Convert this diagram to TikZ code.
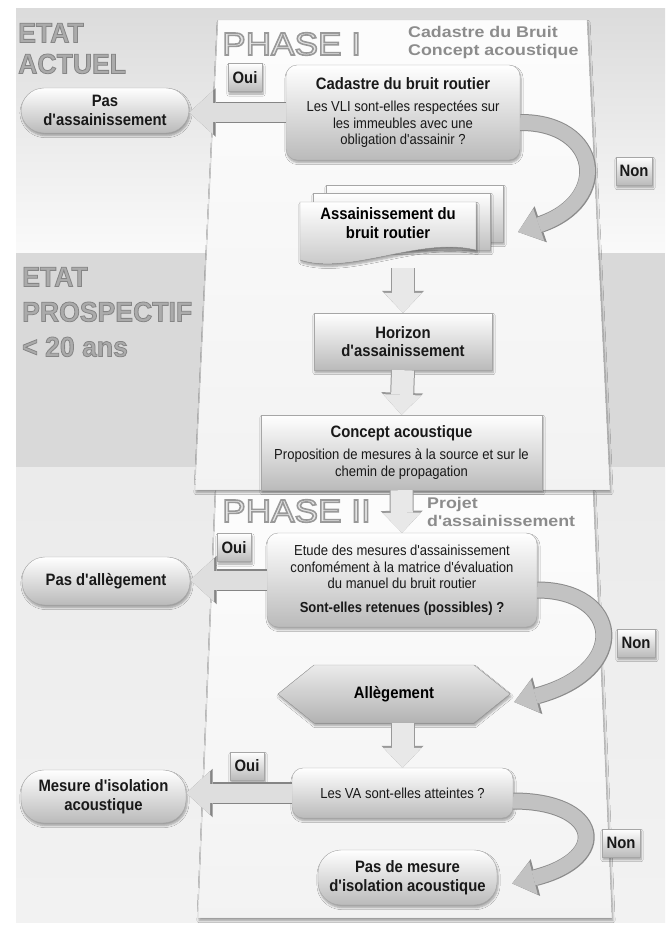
\documentclass[tikz,border=0pt]{standalone}
\usepackage{fontspec}
\setmainfont{Liberation Sans}
\newfontfamily\narrowfont{Liberation Sans}[FakeStretch=0.9]
\newfontfamily\headfont{Liberation Sans}[FakeStretch=0.95]
\newfontfamily\phasefont{Liberation Sans}[FakeStretch=1.1]
\newfontfamily\widefont{Liberation Sans}[FakeStretch=1.15]
\usetikzlibrary{arrows.meta,shadows.blur,calc}
\newcommand{\bodytext}{\narrowfont\fontsize{14.5}{16.5}\selectfont}
\newcommand{\titletext}{\narrowfont\bfseries\fontsize{16.5}{18.5}\selectfont}
% filled text with a stroked outline: #1 outline grey level, #2 line width, #3 fill colour, #4 text
\newcommand{\outlined}[4]{\textcolor{#3}{\special{pdf:literal 2 Tr #2 w #1 G}#4\special{pdf:literal 0 Tr}}}
\tikzset{
  softshadow/.style={blur shadow={shadow xshift=1pt,shadow yshift=-2.5pt,shadow blur steps=6,shadow opacity=35}},
  mainbox/.style={draw=black!35, rounded corners=11pt, top color=white, bottom color=black!27,
    align=center, font=\bodytext, text=black!90, inner sep=4pt, softshadow},
  flatbox/.style={mainbox, rounded corners=0pt},
  endbox/.style={mainbox, rounded corners=23pt, font=\titletext},
  answer/.style={flatbox, font=\titletext, minimum width=34pt, minimum height=28pt, inner sep=2pt},
  docsheet/.style={draw=black!35, top color=white, bottom color=black!25, softshadow},
  hexa/.style={draw=black!35, top color=black!8, bottom color=black!30, softshadow},
  panel/.style={draw=black!18, top color=black!1, bottom color=black!5, softshadow},
  heading/.style={anchor=west, inner sep=0pt, align=left, text=black!33, font=\headfont\bfseries\fontsize{28}{31}\selectfont},
  sidearrow/.style={line width=19pt, draw=black!13, -{Triangle[width=44pt,length=24pt,line width=0pt]},
    preaction={draw=black!48, line width=21.5pt, -{Triangle[width=48.5pt,length=26.5pt,line width=0pt]}}},
  downarrow/.style={line width=22pt, draw=black!9, -{Triangle[width=38pt,length=20pt,line width=0pt]},
    preaction={draw=black!40, line width=24pt, -{Triangle[width=42pt,length=22pt,line width=0pt]}}},
  bendarrow/.style={line width=15pt, draw=black!24, -{Triangle[width=34pt,length=22pt,line width=0pt]},
    preaction={draw=black!45, line width=17pt, -{Triangle[width=38pt,length=24pt,line width=0pt]}}}
}
\begin{document}
\begin{tikzpicture}[x=1pt,y=-1pt]
\useasboundingbox (0,0) rectangle (665,927);
% background bands and the two phase panels
\fill[white] (0,0) rectangle (665,927);
\shade[top color=black!14, bottom color=black!2] (16,8) rectangle (665,253);
\fill[black!15] (16,253) rectangle (665,467);
\shade[top color=black!8, bottom color=black!5] (16,467) rectangle (665,922);
\filldraw[panel] (216,490) -- (593,490) -- (612,918) -- (198,918) -- cycle;
\filldraw[panel] (218,20) -- (587,20) -- (610,490) -- (195,490) -- cycle;

% headings
\node[heading] (etatA) at (18,48.5) {\outlined{0.52}{0.8}{black!33}{ETAT}\\\outlined{0.52}{0.8}{black!33}{ACTUEL}};
\node[heading, font=\headfont\bfseries\fontsize{28}{35}\selectfont] (etatB) at (22,312)
  {\outlined{0.52}{0.8}{black!33}{ETAT}\\\outlined{0.52}{0.8}{black!33}{PROSPECTIF}\\\outlined{0.52}{0.8}{black!33}{< 20 ans}};
\node[heading, font=\phasefont\fontsize{32}{34}\selectfont] (phaseA) at (222,44) {\outlined{0.6}{1.6}{black!10}{PHASE I}};
\node[heading, font=\phasefont\fontsize{32}{34}\selectfont] (phaseB) at (222,511) {\outlined{0.6}{1.6}{black!10}{PHASE II}};
\node[heading, font=\widefont\bfseries\fontsize{15.5}{18}\selectfont, text=black!45] (subA) at (408,42) {Cadastre du Bruit\\Concept acoustique};
\node[heading, font=\widefont\bfseries\fontsize{15.5}{18}\selectfont, text=black!45] (subB) at (427,512) {Projet\\d'assainissement};

% phase I
\node[mainbox, minimum width=234pt, minimum height=95pt] (cad) at (403,112.5)
  {{\titletext Cadastre du bruit routier}\\[6pt]Les VLI sont-elles respectées sur\\les immeubles avec une\\obligation d'assainir ?};
\node[endbox, minimum width=168pt, minimum height=45pt] (pasA) at (105,110.5) {Pas\\d'assainissement};
\node[answer] (ouiA) at (245,77.5) {Oui};
\node[answer, minimum width=36pt] (nonA) at (634,171) {Non};
\filldraw[docsheet] (326,185) rectangle (503,242);
\filldraw[docsheet] (313,193) rectangle (490,250);
\filldraw[docsheet] (300,202) -- (476,202) -- (476,250) .. controls (420,236) and (350,276) .. (300,260) -- cycle;
\node[font=\titletext, align=center, inner sep=0pt, minimum width=176pt, minimum height=70pt] (assain) at (388,223)
  {Assainissement du\\bruit routier};
\coordinate (endA) at (518,232);
\node[flatbox, font=\titletext, minimum width=178pt, minimum height=57pt] (hor) at (403,341.5) {Horizon\\d'assainissement};
\node[flatbox, minimum width=281pt, minimum height=75pt] (conc) at (401.5,452.5)
  {{\titletext Concept acoustique}\\[6pt]Proposition de mesures à la source et sur le\\chemin de propagation};

% phase II
\node[mainbox, minimum width=270pt, minimum height=94pt] (etude) at (402,580)
  {Etude des mesures d'assainissement\\confomément à la matrice d'évaluation\\du manuel du bruit routier\\[7pt]{\bfseries Sont-elles retenues (possibles) ?}};
\node[endbox, minimum width=168pt, minimum height=48pt] (pasB) at (106,581) {Pas d'allègement};
\node[answer] (ouiB) at (234,547.5) {Oui};
\node[answer, minimum width=38pt] (nonB) at (636,643) {Non};
\filldraw[hexa] (278,694) -- (314,665) -- (474,665) -- (510,694) -- (474,723) -- (314,723) -- cycle;
\node[font=\titletext, minimum width=232pt, minimum height=58pt] (alleg) at (394,694) {Allègement};
\node[mainbox, minimum width=221pt, minimum height=50pt] (va) at (402.5,793) {Les VA sont-elles atteintes ?};
\node[endbox, minimum width=165pt, minimum height=53pt] (mes) at (103.5,796.5) {Mesure d'isolation\\acoustique};
\node[answer] (ouiC) at (247,766) {Oui};
\node[answer, minimum width=38pt] (nonC) at (621,843) {Non};
\node[endbox, minimum width=179pt, minimum height=55pt] (pasC) at (407.5,877.5) {Pas de mesure\\d'isolation acoustique};

% connectors
\draw[sidearrow] (cad.west) -- (cad.west -| pasA.east);
\draw[sidearrow] (etude.west) -- (etude.west -| pasB.east);
\draw[sidearrow] (va.west) -- (va.west -| mes.east);
\draw[bendarrow] ([yshift=-10pt]cad.east) .. controls (600,122) and (612,200) .. (endA);
\draw[bendarrow] ([yshift=-10pt]etude.east) .. controls (620,590) and (632,670) .. ([xshift=4pt,yshift=-8pt]alleg.east);
\draw[bendarrow] ([yshift=-8pt]va.east) .. controls (600,801) and (612,858) .. ([xshift=15pt,yshift=-6pt]pasC.east);
\draw[downarrow] ($(hor.north |- assain.south)+(0,10)$) -- (hor.north);
\draw[downarrow] (hor.south) -- (conc.north);
\draw[downarrow] (conc.south) -- (etude.north);
\draw[downarrow] (va.north |- alleg.south) -- (va.north);
\end{tikzpicture}
\end{document}
